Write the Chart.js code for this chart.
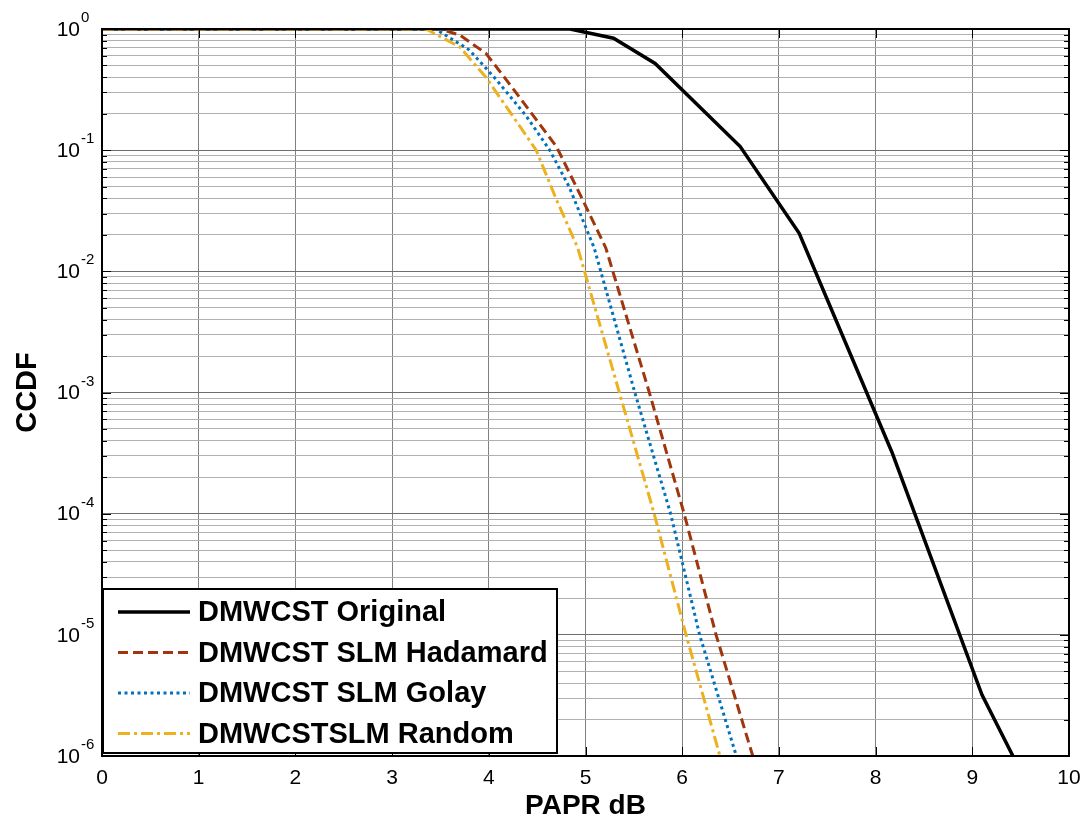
<!DOCTYPE html>
<html>
<head>
<meta charset="utf-8">
<title>CCDF of PAPR</title>
<script src="https://cdn.jsdelivr.net/npm/chart.js@4.4.1/dist/chart.umd.min.js"></script>
<style>
  html, body { margin: 0; padding: 0; background: #fff; }
  #wrap { width: 1085px; height: 820px; }
</style>
</head>
<body>
<div id="wrap"><canvas id="ccdf" width="1085" height="820"></canvas></div>
<script>
const FONT = "'Liberation Sans', Arial, Helvetica, sans-serif";

// series names (legend order)
const seriesNames = ['DMWCST Original', 'DMWCST SLM Hadamard', 'DMWCST SLM Golay', 'DMWCSTSLM Random'];

// PAPR (dB) / CCDF values
const paprOriginal  = [0, 4.84, 5.29, 5.72, 6.6, 7.21, 8.17, 9.1, 9.42];
const ccdfOriginal  = [1, 1, 0.84, 0.52, 0.107, 0.0206, 3.2e-4, 3.2e-6, 1e-6];

const paprHadamard  = [0, 3.5, 3.7, 3.97, 4.28, 4.7, 4.97, 5.21, 5.66, 6.02, 6.35, 6.73];
const ccdfHadamard  = [1, 1, 0.89, 0.63, 0.30, 0.107, 0.039, 0.0156, 1e-3, 1e-4, 1e-5, 1e-6];

const paprGolay     = [0, 3.45, 3.8, 4.08, 4.39, 4.63, 4.83, 5.09, 5.51, 5.88, 6.18, 6.56];
const ccdfGolay     = [1, 1, 0.67, 0.38, 0.19, 0.1, 0.05, 0.0156, 1e-3, 1e-4, 1e-5, 1e-6];

const paprRandom    = [0, 3.35, 3.7, 3.97, 4.25, 4.49, 4.7, 4.92, 5.35, 5.71, 6.04, 6.39];
const ccdfRandom    = [1, 1, 0.71, 0.40, 0.19, 0.1, 0.039, 0.0156, 1e-3, 1e-4, 1e-5, 1e-6];

// axis ticks
const xTicks = [0, 1, 2, 3, 4, 5, 6, 7, 8, 9, 10];
const yDecades = [-6, -5, -4, -3, -2, -1, 0];
const yMinorSteps = [2, 3, 4, 5, 6, 7, 8, 9];

const yGrid = [];
yDecades.forEach(d => {
  yGrid.push(Math.pow(10, d));
  if (d < 0) yMinorSteps.forEach(m => yGrid.push(m * Math.pow(10, d)));
});
const isMajor = v => Math.abs(Math.log10(v) - Math.round(Math.log10(v))) < 1e-9;

const pts = (xs, ys) => xs.map((x, i) => ({ x: x, y: ys[i] }));

const styles = [
  { color: '#000000', width: 3.5, dash: [] },
  { color: '#A0360C', width: 3, dash: [10, 5] },
  { color: '#0072BD', width: 3, dash: [3, 3.5] },
  { color: '#EDB120', width: 3, dash: [12, 4, 3, 4] }
];
const seriesData = [
  pts(paprOriginal, ccdfOriginal),
  pts(paprHadamard, ccdfHadamard),
  pts(paprGolay, ccdfGolay),
  pts(paprRandom, ccdfRandom)
];

const datasets = seriesNames.map((name, i) => ({
  label: name,
  data: seriesData[i],
  borderColor: styles[i].color,
  borderWidth: styles[i].width,
  borderDash: styles[i].dash,
  pointRadius: 0,
  tension: 0,
  fill: false,
  order: seriesNames.length - i
}));

// axes box, inward ticks, y labels with exponents and the legend
const framePlugin = {
  id: 'frame',
  afterDraw(chart) {
    const { ctx, chartArea: a, scales: { x, y } } = chart;
    ctx.save();
    ctx.strokeStyle = '#000';
    ctx.lineWidth = 1;
    ctx.beginPath();
    yGrid.forEach(v => {
      const py = Math.round(y.getPixelForValue(v)) + 0.5;
      const len = isMajor(v) ? 9 : 5;
      ctx.moveTo(a.left, py); ctx.lineTo(a.left + len, py);
      ctx.moveTo(a.right, py); ctx.lineTo(a.right - len, py);
    });
    xTicks.forEach(v => {
      const px = Math.round(x.getPixelForValue(v)) + 0.5;
      ctx.moveTo(px, a.bottom); ctx.lineTo(px, a.bottom - 9);
      ctx.moveTo(px, a.top); ctx.lineTo(px, a.top + 9);
    });
    ctx.stroke();

    ctx.lineWidth = 2;
    ctx.strokeRect(a.left, a.top, a.right - a.left, a.bottom - a.top);

    // y tick labels: 10^n
    ctx.fillStyle = '#000';
    ctx.textBaseline = 'middle';
    yDecades.forEach(d => {
      const py = y.getPixelForValue(Math.pow(10, d));
      ctx.font = '21px ' + FONT;
      ctx.textAlign = 'right';
      ctx.fillText('10', a.left - 22, py + 1);
      ctx.font = '15px ' + FONT;
      ctx.textAlign = 'left';
      ctx.fillText(String(d), a.left - 21, py - 11);
    });

    // legend
    const lx = a.left + 1, ly = 589, lw = 454, lh = 164;
    ctx.fillStyle = '#fff';
    ctx.fillRect(lx, ly, lw, lh);
    ctx.lineWidth = 2;
    ctx.strokeStyle = '#000';
    ctx.strokeRect(lx, ly, lw, lh);
    chart.data.datasets.forEach((ds, i) => {
      const cy = 612 + i * 40.5;
      ctx.beginPath();
      ctx.setLineDash(ds.borderDash);
      ctx.strokeStyle = ds.borderColor;
      ctx.lineWidth = ds.borderWidth;
      ctx.moveTo(118, cy);
      ctx.lineTo(190, cy);
      ctx.stroke();
      ctx.setLineDash([]);
      ctx.fillStyle = '#000';
      ctx.font = 'bold 29px ' + FONT;
      ctx.textAlign = 'left';
      ctx.textBaseline = 'middle';
      ctx.fillText(ds.label, 198, cy + 1);
    });
    ctx.restore();
  }
};

new Chart(document.getElementById('ccdf'), {
  type: 'line',
  data: { datasets: datasets },
  options: {
    responsive: false,
    devicePixelRatio: 1,
    animation: false,
    events: [],
    layout: { padding: { top: 29, right: 16, left: 0, bottom: 0 } },
    plugins: { legend: { display: false }, tooltip: { enabled: false } },
    scales: {
      x: {
        type: 'linear',
        min: 0,
        max: 10,
        afterBuildTicks: s => { s.ticks = xTicks.map(v => ({ value: v })); },
        afterFit: s => { s.height = 64; s.paddingLeft = 0; s.paddingRight = 0; },
        ticks: { autoSkip: false, maxRotation: 0, color: '#000', padding: 10, font: { family: FONT, size: 21 } },
        grid: { color: '#808080', lineWidth: 1, drawTicks: false },
        border: { display: false },
        title: {
          display: true,
          text: 'PAPR dB',
          color: '#000',
          padding: { top: 0, bottom: 0 },
          font: { family: FONT, size: 28, weight: 'bold', lineHeight: 1 }
        }
      },
      y: {
        type: 'logarithmic',
        min: 1e-6,
        max: 1,
        afterBuildTicks: s => { s.ticks = yGrid.map(v => ({ value: v })); },
        afterFit: s => { s.width = 102; },
        ticks: { display: false, autoSkip: false },
        grid: {
          color: c => (c.tick && isMajor(c.tick.value)) ? '#6e6e6e' : '#b0b0b0',
          lineWidth: 1,
          drawTicks: false
        },
        border: { display: false },
        title: {
          display: true,
          text: 'CCDF',
          color: '#000',
          padding: { top: 11, bottom: 0 },
          font: { family: FONT, size: 29, weight: 'bold', lineHeight: 1.2 }
        }
      }
    }
  },
  plugins: [framePlugin]
});
</script>
</body>
</html>
